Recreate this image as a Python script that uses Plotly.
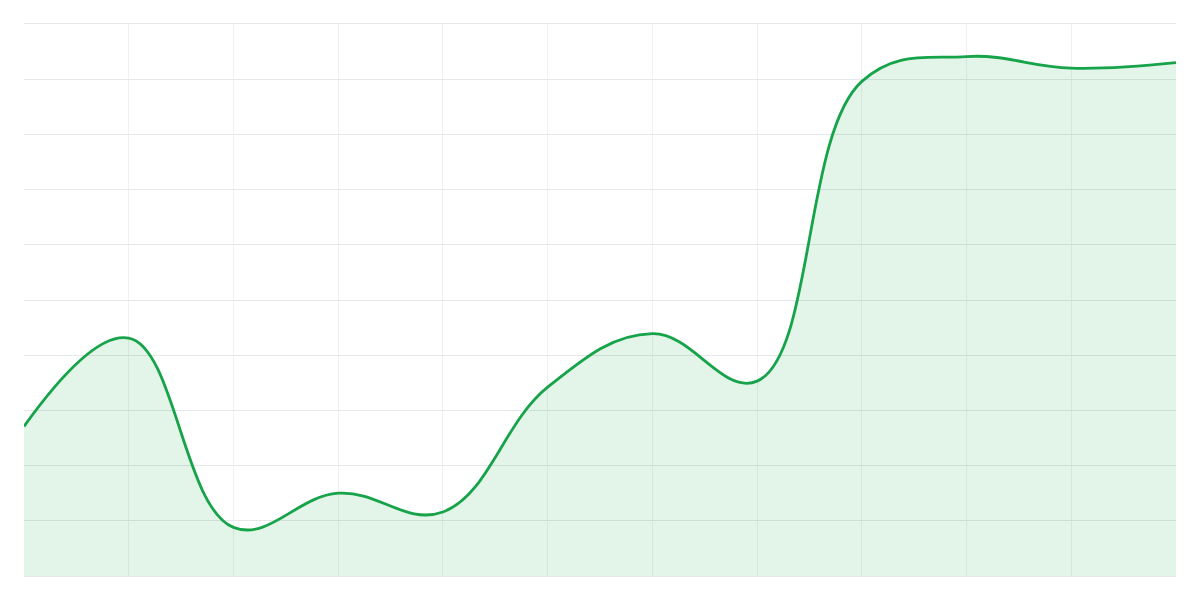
import plotly.graph_objects as go

# twelve points, one per vertical grid line
months = list(range(12))
values = [27.1, 43.1, 8.8, 15.0, 11.6, 34.2, 43.9, 35.3, 89.6, 94.1, 92.0, 93.0]

trace = go.Scatter(
    x=months,
    y=values,
    mode='lines',
    line=dict(color='#16a34a', width=2.8, shape='spline', smoothing=1.15),
    fill='tozeroy',
    fillcolor='rgba(22,163,74,0.12)',
    hoverinfo='skip',
)

# the page body adds an 8px margin, so the margins are offset by it
layout = go.Layout(
    width=1200,
    height=600,
    margin=dict(l=16, r=32, t=16, b=32),
    paper_bgcolor='white',
    plot_bgcolor='white',
    showlegend=False,
    xaxis=dict(range=[0, 11], dtick=1, showticklabels=False, showgrid=True,
               gridcolor='#f0f0f2', gridwidth=1, zeroline=False,
               showline=True, linecolor='#e5e7eb', mirror=True),
    yaxis=dict(range=[0, 100], dtick=10, showticklabels=False, showgrid=True,
               gridcolor='#e5e7eb', gridwidth=1, zeroline=False,
               showline=False),
)

fig = go.Figure(data=[trace], layout=layout)
fig.write_html("out.html")
